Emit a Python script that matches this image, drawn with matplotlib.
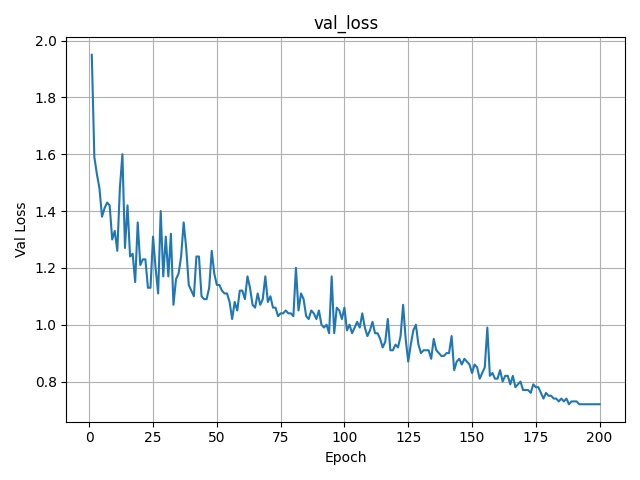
import matplotlib
matplotlib.use("Agg")
import matplotlib.pyplot as plt

val_loss = [
1.95,1.59,1.53,1.48,1.38,1.41,1.43,1.42,1.30,1.33,
1.26,1.48,1.60,1.27,1.42,1.24,1.25,1.15,1.36,1.21,
1.23,1.23,1.13,1.13,1.31,1.20,1.11,1.40,1.17,1.31,
1.17,1.32,1.07,1.16,1.18,1.24,1.36,1.27,1.14,1.12,
1.10,1.24,1.24,1.10,1.09,1.09,1.13,1.26,1.18,1.14,
1.14,1.12,1.11,1.11,1.08,1.02,1.08,1.05,1.12,1.12,
1.09,1.17,1.13,1.07,1.06,1.11,1.07,1.09,1.17,1.08,
1.10,1.06,1.06,1.03,1.04,1.04,1.05,1.04,1.04,1.03,
1.20,1.05,1.11,1.09,1.03,1.02,1.05,1.04,1.02,1.05,
1.00,0.99,1.00,0.97,1.17,0.97,1.06,1.05,1.02,1.06,
0.98,1.00,0.97,0.99,1.01,0.99,1.04,0.99,0.96,0.98,
1.01,0.97,0.97,0.95,0.92,0.94,1.02,0.91,0.91,0.93,
0.92,0.96,1.07,0.95,0.87,0.93,0.98,1.00,0.93,0.90,
0.91,0.91,0.91,0.88,0.95,0.91,0.90,0.89,0.89,0.90,
0.90,0.96,0.84,0.87,0.88,0.86,0.88,0.87,0.86,0.83,
0.86,0.85,0.81,0.83,0.85,0.99,0.82,0.83,0.81,0.81,
0.84,0.80,0.82,0.82,0.79,0.82,0.78,0.79,0.80,0.77,
0.77,0.77,0.76,0.79,0.78,0.78,0.76,0.74,0.76,0.75,
0.75,0.74,0.74,0.73,0.74,0.73,0.74,0.72,0.73,0.73,
0.73,0.72,0.72,0.72,0.72,0.72,0.72,0.72,0.72,0.72,
]
epochs = list(range(1, len(val_loss) + 1))

fig, ax = plt.subplots(figsize=(6.4, 4.8), dpi=100)
ax.plot(epochs, val_loss)
ax.set_title("val_loss")
ax.set_xlabel("Epoch")
ax.set_ylabel("Val Loss")
ax.grid(True)
fig.tight_layout()
fig.savefig("out.png")
